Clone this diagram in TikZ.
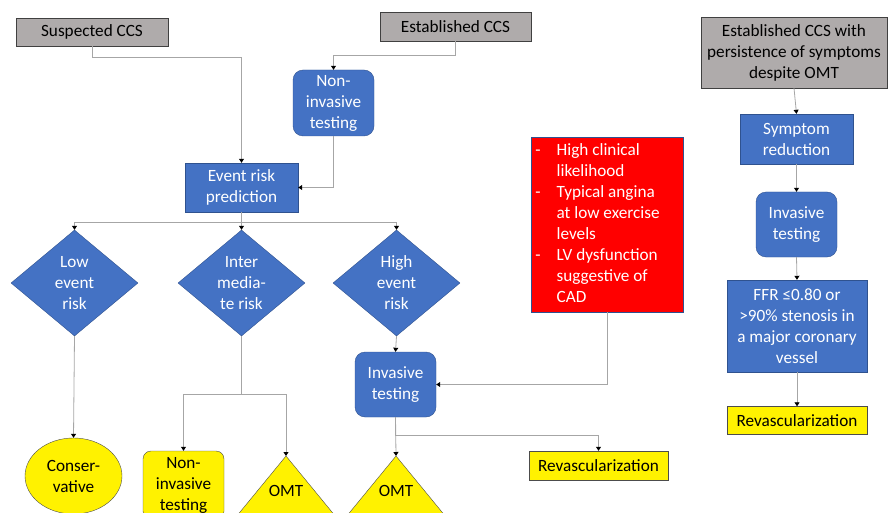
\documentclass[tikz,border=0pt]{standalone}
\usepackage{fontspec}
\setmainfont{Carlito}
\usetikzlibrary{shapes.geometric,arrows.meta}
\definecolor{boxgray}{HTML}{AFABAB}
\definecolor{boxblue}{HTML}{4472C4}
\definecolor{edgeblue}{HTML}{2F528F}
\definecolor{linegray}{HTML}{A6A6A6}
\begin{document}
\begin{tikzpicture}[x=1pt,y=-1pt,
    every node/.style={font=\fontsize{17.2}{21}\selectfont, align=center, inner sep=0pt},
    start/.style={draw=black!75, fill=boxgray, rectangle},
    bluebox/.style={draw=edgeblue, fill=boxblue, text=white, rectangle},
    bluerbox/.style={bluebox, rounded corners=10pt},
    risk/.style={draw=edgeblue, fill=boxblue, text=white, diamond, aspect=1.2,
        minimum width=127pt, minimum height=106pt},
    result/.style={draw=black!70, fill=yellow, rectangle},
    conn/.style={draw=linegray, line width=0.8pt,
        -{Triangle[color=black, width=5pt, length=4pt]}}]
    \useasboundingbox (0,0) rectangle (888,513);
    \clip (0,0) rectangle (888,513);
    % entry boxes
    \node[start, minimum width=152pt, minimum height=28pt] (sus) at (92,32) {Suspected CCS};
    \node[start, minimum width=151pt, minimum height=29pt] (est) at (455.5,26.5) {Established CCS};
    \node[start, minimum width=186pt, minimum height=71pt] (estp) at (794,52.5)
        {Established CCS with\\persistence of symptoms\\despite OMT};
    % left part
    \node[bluerbox, minimum width=81pt, minimum height=66pt] (nit) at (333.5,103) {Non-\\invasive\\testing};
    \node[bluebox, minimum width=113pt, minimum height=49pt] (evt) at (241.5,187.5) {Event risk\\prediction};
    \node[risk] (low) at (74.5,283) {Low\\event\\risk};
    \node[risk] (int) at (241.5,283) {Inter\\media-\\te risk};
    \node[risk] (high) at (396.5,283) {High\\event\\risk};
    \node[bluerbox, minimum width=81pt, minimum height=65pt] (inv) at (395.5,384.5) {Invasive\\testing};
    \node[draw=edgeblue, fill=red, text=white, minimum width=152pt, minimum height=175pt,
        align=left] (crit) at (607,224.5) {%
        \begin{tabular}{@{}l@{\hspace{16pt}}l@{}}
        - & High clinical\\
          & likelihood\\
        - & Typical angina\\
          & at low exercise\\
          & levels\\
        - & LV dysfunction\\
          & suggestive of\\
          & CAD
        \end{tabular}\hspace{19pt}};
    % outcomes
    \node[result, ellipse, minimum width=97pt, minimum height=76pt] (cons) at (73.5,476) {Conser-\\vative};
    \node[result, rounded corners=8pt, minimum width=81pt, minimum height=68pt] (nit2) at (183.5,485) {Non-\\invasive\\testing};
    \coordinate (omt1) at (286,456);
    \draw[draw=black!70, fill=yellow] (omt1) -- ++(-73,89) -- ++(146,0) -- cycle;
    \node (omt1t) at (286,491) {OMT};
    \coordinate (omt2) at (396,456);
    \draw[draw=black!70, fill=yellow] (omt2) -- ++(-73,89) -- ++(146,0) -- cycle;
    \node (omt2t) at (396,491) {OMT};
    \node[result, minimum width=139pt, minimum height=29pt] (rev1) at (598.5,465.5) {Revascularization};
    % right part
    \node[bluebox, minimum width=113pt, minimum height=50pt] (sym) at (796.5,139) {Symptom\\reduction};
    \node[bluerbox, minimum width=81pt, minimum height=65pt] (inv2) at (796.5,224.5) {Invasive\\testing};
    \node[bluebox, minimum width=140pt, minimum height=92pt] (ffr) at (797,326)
        {FFR ≤0.80 or\\>90\% stenosis in\\a major coronary\\vessel};
    \node[result, minimum width=140pt, minimum height=28pt] (rev2) at (797,420.5) {Revascularization};
    % connectors
    \draw[conn] (sus.south) -- ++(0,11) -| (evt.north);
    \draw[conn] (est.south) -- ++(0,14) -| (nit.north);
    \draw[conn] (nit.south) |- (evt.east);
    \draw[conn] (evt.south) -- ++(0,10) -| (low.north);
    \draw[conn] (evt.south) -- (int.north);
    \draw[conn] (evt.south) -- ++(0,10) -| (high.north);
    \draw[conn] (high.south) -- (inv.north);
    \draw[conn] (crit.south) |- (inv.east);
    \draw[conn] (low.south) -- (cons.north);
    \draw[conn] (int.south) -- ++(0,58) -| (nit2.north);
    \draw[conn] (int.south) -- ++(0,58) -| (omt1);
    \draw[conn] (inv.south) -- (omt2);
    \draw[conn] (inv.south) -- ++(0,18) -| (rev1.north);
    \draw[conn] (estp.south) -- (sym.north);
    \draw[conn] (sym.south) -- (inv2.north);
    \draw[conn] (inv2.south) -- (ffr.north);
    \draw[conn] (ffr.south) -- (rev2.north);
\end{tikzpicture}
\end{document}
